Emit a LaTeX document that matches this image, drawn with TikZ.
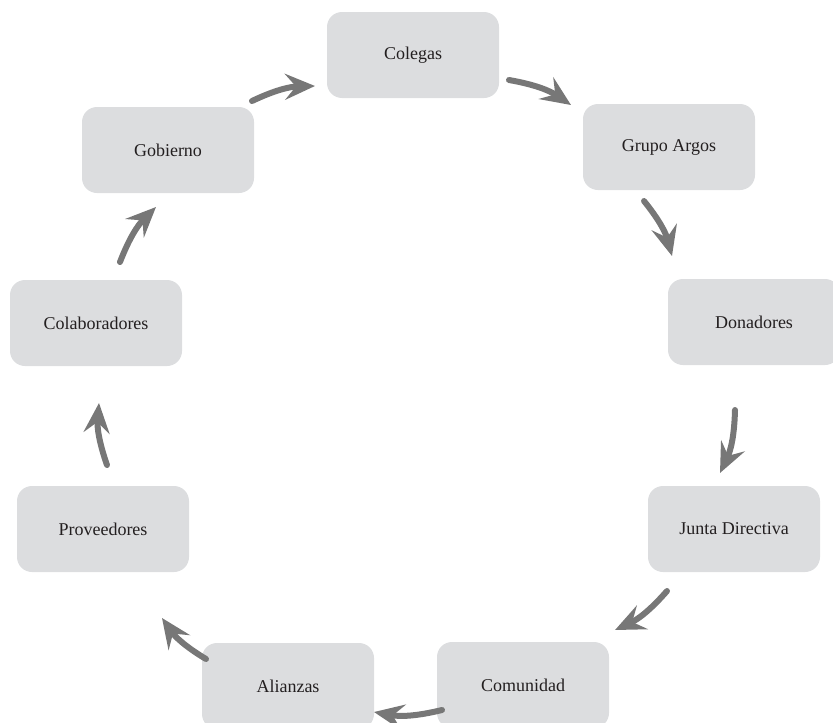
\documentclass[tikz,border=0pt]{standalone}
\usepackage{fontspec}
\setmainfont{Liberation Serif}
\usetikzlibrary{arrows.meta}
\definecolor{boxgray}{HTML}{DCDDDF}
\definecolor{arrgray}{HTML}{777777}
\definecolor{txt}{HTML}{231F20}
\tikzset{
  box/.style={fill=boxgray, rounded corners=15pt, minimum width=172pt, minimum height=86pt, inner sep=0pt, font=\fontsize{18}{21}\selectfont, text=txt},
  flow/.style={draw=arrgray, line width=6pt, line cap=round, -{Stealth[length=30pt, width=26pt, inset=11pt]}, bend left=12},
}
\begin{document}
\begin{tikzpicture}[x=1pt, y=-1pt]
\useasboundingbox (0,0) rectangle (833,723);
\node[box] (colegas) at (413,55) {Colegas};
\node[box] (argos) at (669,147) {Grupo Argos};
\node[box] (donadores) at (754,322) {Donadores};
\node[box] (junta) at (734,529) {Junta Directiva};
\node[box] (comunidad) at (523,685) {Comunidad};
\node[box] (alianzas) at (288,686) {Alianzas};
\node[box] (proveedores) at (103,529) {Proveedores};
\node[box] (colaboradores) at (96,323) {Colaboradores};
\node[box] (gobierno) at (168,150) {Gobierno};

\coordinate (a1s) at (509,80); \coordinate (a1e) at (571,105);
\coordinate (a2s) at (644,201); \coordinate (a2e) at (672,256);
\coordinate (a3s) at (735,410); \coordinate (a3e) at (720,473);
\coordinate (a4s) at (667,591); \coordinate (a4e) at (615,630);
\coordinate (a5s) at (442,710); \coordinate (a5e) at (374,712);
\coordinate (a6s) at (206,659); \coordinate (a6e) at (162,618);
\coordinate (a7s) at (107,465); \coordinate (a7e) at (99,403);
\coordinate (a8s) at (120,262); \coordinate (a8e) at (156,207);
\coordinate (a9s) at (252,101); \coordinate (a9e) at (315,86);

\draw[flow] (a1s) to (a1e);
\draw[flow] (a2s) to (a2e);
\draw[flow] (a3s) to (a3e);
\draw[flow] (a4s) to (a4e);
\draw[flow] (a5s) to (a5e);
\draw[flow] (a6s) to (a6e);
\draw[flow] (a7s) to (a7e);
\draw[flow] (a8s) to (a8e);
\draw[flow] (a9s) to (a9e);
\end{tikzpicture}
\end{document}
